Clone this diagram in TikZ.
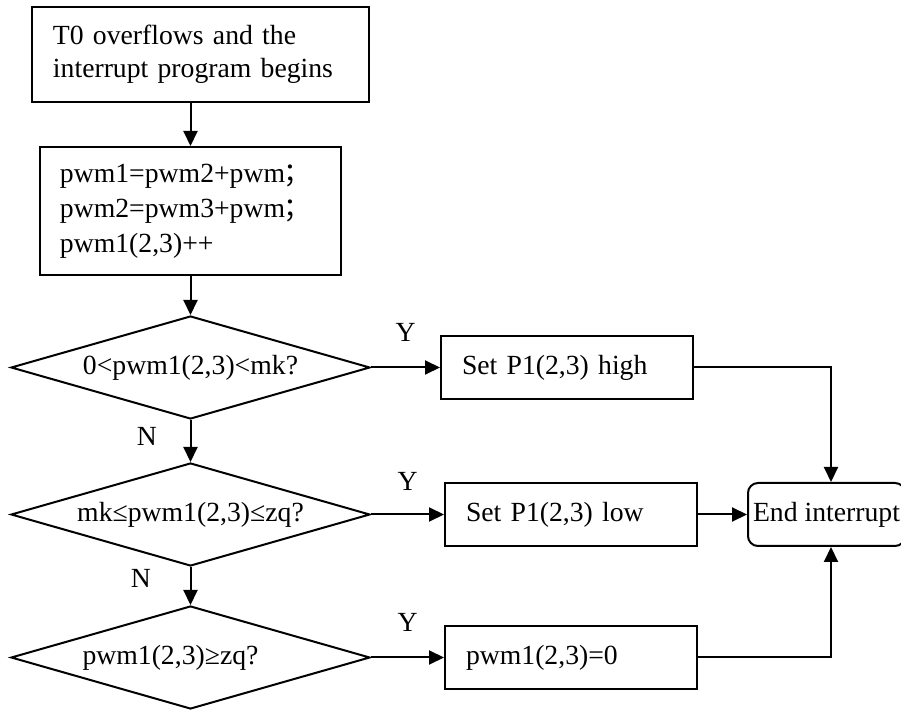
\documentclass[tikz,border=0pt]{standalone}
\usepackage{fontspec}
\setmainfont{Liberation Serif}
\newfontfamily\cjk{Noto Sans CJK SC}
\usetikzlibrary{positioning, shapes.geometric, arrows.meta}

\begin{document}
\begin{tikzpicture}[x=0.5pt, y=-0.5pt,
    font=\fontsize{13.85}{17.5}\selectfont,
    box/.style={draw, line width=1pt, rectangle, minimum height=31.5pt,
      inner xsep=10.5pt, text width=105pt, align=left},
    decision/.style={draw, line width=1pt, diamond, aspect=3.45, inner sep=0pt,
      minimum width=179.5pt, minimum height=51.5pt},
    flow/.style={->, >={Triangle[length=7.5pt, width=7pt]}, line width=1pt}]
  \useasboundingbox (0,0) rectangle (901,711);

  \node[box, text width=147.5pt, minimum height=47.5pt,
        font=\fontsize{13.85}{16.5}\selectfont] (start) at (200.5,54.5)
    {T0 overflows and the\\interrupt program begins};
  \node[box, text width=130.5pt, inner xsep=10pt, minimum height=64pt,
        below=21.5pt of start, xshift=-5pt] (calc)
    {pwm1=pwm2+pwm{\cjk\kern-1pt；}\\pwm2=pwm3+pwm{\cjk\kern-1pt；}\\pwm1(2,3)++};

  \node[decision, below=19.5pt of calc] (d1) {0<pwm1(2,3)<mk?};
  \node[decision, below=21pt of d1] (d2) {mk≤pwm1(2,3)≤zq?};
  \node[decision, below=19pt of d2] (d3) {pwm1(2,3)≥zq?\hspace*{20pt}};

  \node[box, right=34.5pt of d1] (high) {Set P1(2,3) high};
  \node[box, right=36.5pt of d2] (low) {Set P1(2,3) low};
  \node[box, right=36.5pt of d3] (zero) {pwm1(2,3)=0};
  \node[draw, line width=1pt, rounded corners=5pt, minimum width=78.5pt,
        minimum height=31.5pt, inner xsep=2pt, right=24.5pt of low] (end)
    {End interrupt};

  \draw[flow] (start.south -| calc.north) -- (calc.north);
  \draw[flow] (calc.south) -- (d1.north);
  \draw[flow] (d1.south) -- node[left=13pt, pos=0.4] {N} (d2.north);
  \draw[flow] (d2.south) -- node[left=16pt, pos=0.3] {N} (d3.north);

  \draw[flow] (d1.east) -- node[above=9pt] {Y} (high.west);
  \draw[flow] (d2.east) -- node[above=8pt] {Y} (low.west);
  \draw[flow] (d3.east) -- node[above=9pt] {Y} (zero.west);

  \draw[flow] (high.east) -| ([xshift=2.25pt]end.north);
  \draw[flow] (low.east) -- (end.west);
  \draw[flow] (zero.east) -| ([xshift=2.25pt]end.south);
\end{tikzpicture}
\end{document}
